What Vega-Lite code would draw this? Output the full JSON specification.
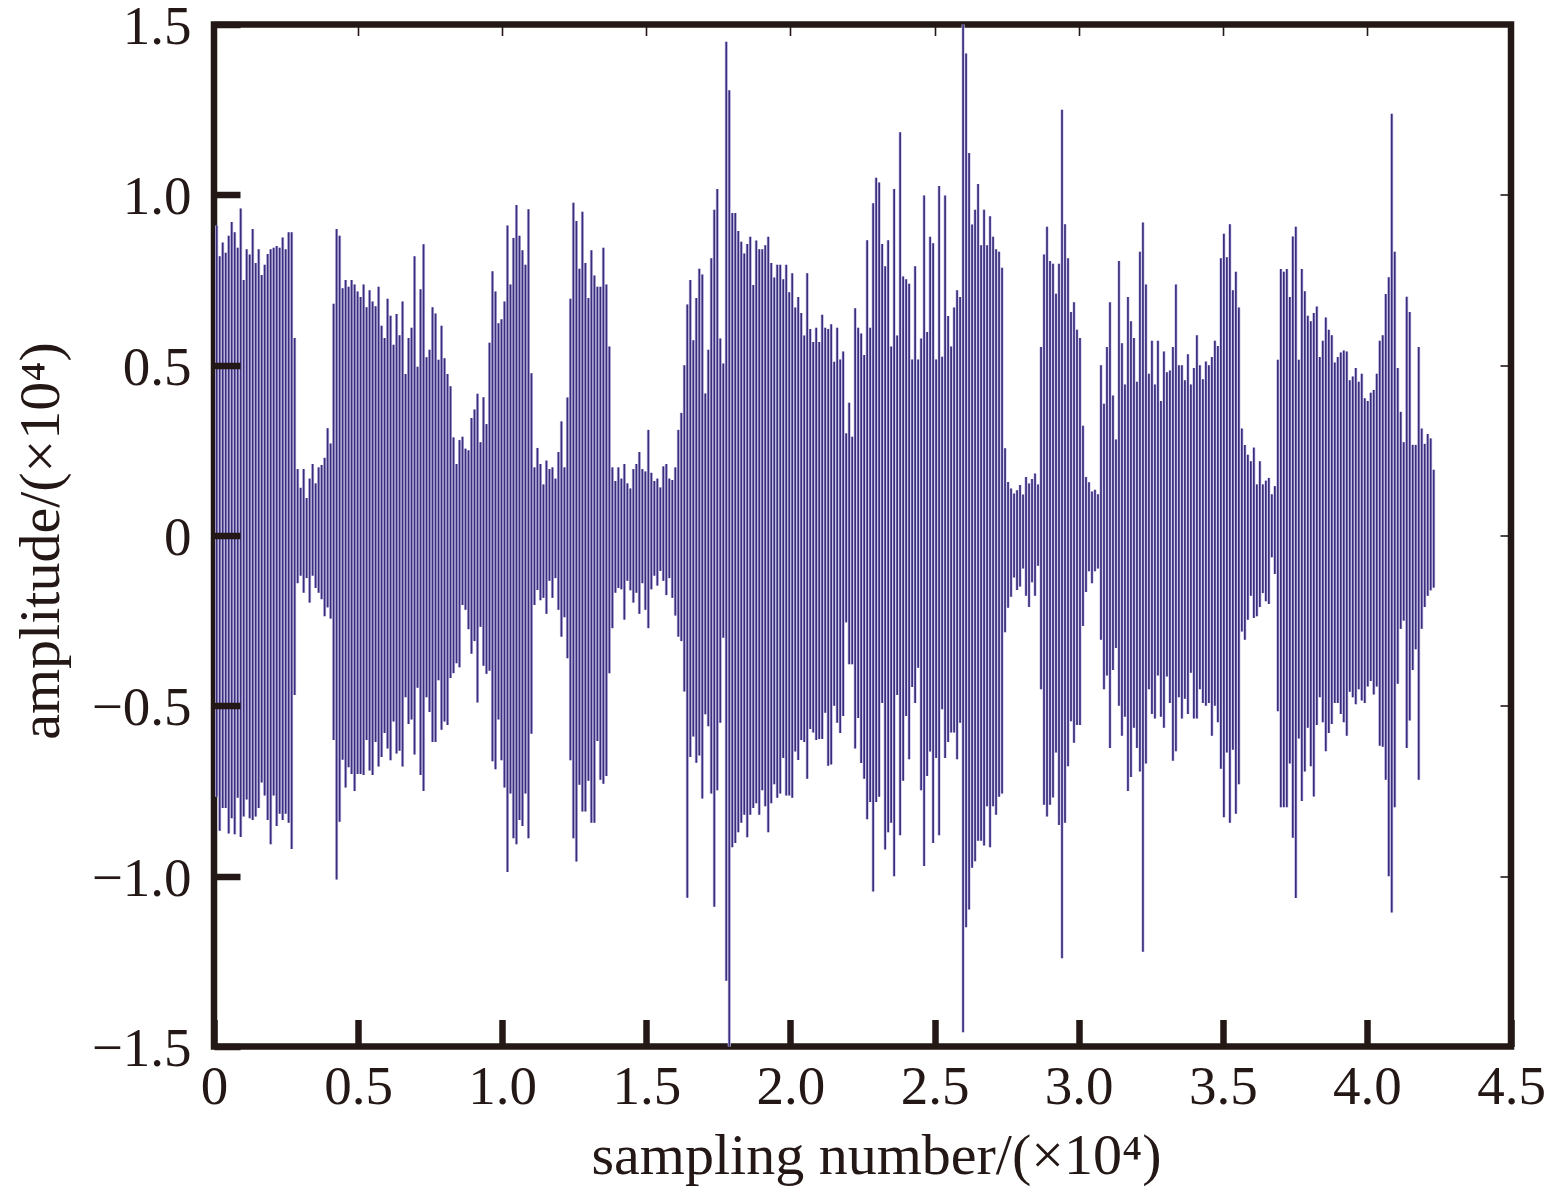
{
"$schema":"https://vega.github.io/schema/vega-lite/v6.json",
"width":1297,"height":1022,
"autosize":{"type":"none"},
"padding":{"left":214,"top":24.5,"right":41,"bottom":146},
"background":"#ffffff",
"view":{"stroke":"#231815","strokeWidth":6.5,"fill":null},
"config":{"axis":{"labelFont":"Liberation Serif","titleFont":"Liberation Serif","labelColor":"#231815","titleColor":"#231815","tickColor":"#231815","domain":false,"grid":false,"labelFontSize":55,"titleFontSize":58,"titleFontWeight":"normal"}},
"data":{"values":[
{"n":0.0094,"hi":0.91,"lo":-0.767},{"n":0.0198,"hi":0.82,"lo":-0.867},{"n":0.0302,"hi":0.86,"lo":-0.8},{"n":0.0406,"hi":0.83,"lo":-0.8},{"n":0.051,"hi":0.88,"lo":-0.875},{"n":0.0614,"hi":0.92,"lo":-0.83},{"n":0.0718,"hi":0.89,"lo":-0.877},{"n":0.0822,"hi":0.845,"lo":-0.77},{"n":0.0926,"hi":0.96,"lo":-0.885},{"n":0.103,"hi":0.75,"lo":-0.825},
{"n":0.1134,"hi":0.84,"lo":-0.775},{"n":0.1238,"hi":0.825,"lo":-0.83},{"n":0.1342,"hi":0.9,"lo":-0.835},{"n":0.1446,"hi":0.8,"lo":-0.825},{"n":0.155,"hi":0.84,"lo":-0.8},{"n":0.1654,"hi":0.765,"lo":-0.725},{"n":0.1758,"hi":0.795,"lo":-0.763},{"n":0.1862,"hi":0.826,"lo":-0.835},{"n":0.1966,"hi":0.84,"lo":-0.906},{"n":0.207,"hi":0.845,"lo":-0.763},
{"n":0.2174,"hi":0.85,"lo":-0.853},{"n":0.2278,"hi":0.845,"lo":-0.817},{"n":0.2382,"hi":0.875,"lo":-0.835},{"n":0.2486,"hi":0.84,"lo":-0.817},{"n":0.259,"hi":0.89,"lo":-0.843},{"n":0.2694,"hi":0.89,"lo":-0.92},{"n":0.2798,"hi":0.58,"lo":-0.468},{"n":0.2902,"hi":0.195,"lo":-0.14},{"n":0.3006,"hi":0.14,"lo":-0.118},{"n":0.311,"hi":0.195,"lo":-0.168},
{"n":0.3214,"hi":0.11,"lo":-0.125},{"n":0.3318,"hi":0.167,"lo":-0.197},{"n":0.3422,"hi":0.21,"lo":-0.118},{"n":0.3526,"hi":0.153,"lo":-0.154},{"n":0.363,"hi":0.2,"lo":-0.168},{"n":0.3734,"hi":0.207,"lo":-0.187},{"n":0.3838,"hi":0.228,"lo":-0.237},{"n":0.3942,"hi":0.315,"lo":-0.211},{"n":0.4046,"hi":0.27,"lo":-0.244},{"n":0.415,"hi":0.68,"lo":-0.6},
{"n":0.4254,"hi":0.9,"lo":-1.01},{"n":0.4358,"hi":0.88,"lo":-0.84},{"n":0.4462,"hi":0.726,"lo":-0.658},{"n":0.4566,"hi":0.75,"lo":-0.74},{"n":0.467,"hi":0.73,"lo":-0.68},{"n":0.4774,"hi":0.75,"lo":-0.7},{"n":0.4878,"hi":0.737,"lo":-0.75},{"n":0.4982,"hi":0.716,"lo":-0.7},{"n":0.5086,"hi":0.7,"lo":-0.7},{"n":0.519,"hi":0.737,"lo":-0.703},
{"n":0.5294,"hi":0.67,"lo":-0.6},{"n":0.5398,"hi":0.72,"lo":-0.69},{"n":0.5502,"hi":0.687,"lo":-0.703},{"n":0.5606,"hi":0.673,"lo":-0.606},{"n":0.571,"hi":0.73,"lo":-0.678},{"n":0.5814,"hi":0.616,"lo":-0.65},{"n":0.5918,"hi":0.58,"lo":-0.58},{"n":0.6022,"hi":0.695,"lo":-0.625},{"n":0.6126,"hi":0.645,"lo":-0.66},{"n":0.623,"hi":0.56,"lo":-0.546},
{"n":0.6334,"hi":0.65,"lo":-0.64},{"n":0.6438,"hi":0.588,"lo":-0.632},{"n":0.6542,"hi":0.687,"lo":-0.678},{"n":0.6646,"hi":0.474,"lo":-0.475},{"n":0.675,"hi":0.58,"lo":-0.553},{"n":0.6854,"hi":0.61,"lo":-0.54},{"n":0.6958,"hi":0.82,"lo":-0.643},{"n":0.7062,"hi":0.495,"lo":-0.447},{"n":0.7166,"hi":0.723,"lo":-0.703},{"n":0.727,"hi":0.855,"lo":-0.75},
{"n":0.7374,"hi":0.523,"lo":-0.475},{"n":0.7478,"hi":0.545,"lo":-0.518},{"n":0.7582,"hi":0.67,"lo":-0.606},{"n":0.7686,"hi":0.652,"lo":-0.606},{"n":0.779,"hi":0.516,"lo":-0.425},{"n":0.7894,"hi":0.616,"lo":-0.57},{"n":0.7998,"hi":0.52,"lo":-0.546},{"n":0.8102,"hi":0.474,"lo":-0.556},{"n":0.8206,"hi":0.438,"lo":-0.418},{"n":0.831,"hi":0.288,"lo":-0.404},
{"n":0.8414,"hi":0.21,"lo":-0.375},{"n":0.8518,"hi":0.28,"lo":-0.387},{"n":0.8622,"hi":0.29,"lo":-0.204},{"n":0.8726,"hi":0.255,"lo":-0.218},{"n":0.883,"hi":0.25,"lo":-0.275},{"n":0.8934,"hi":0.345,"lo":-0.347},{"n":0.9038,"hi":0.37,"lo":-0.31},{"n":0.9142,"hi":0.416,"lo":-0.49},{"n":0.9246,"hi":0.274,"lo":-0.268},{"n":0.935,"hi":0.406,"lo":-0.382},
{"n":0.9454,"hi":0.327,"lo":-0.406},{"n":0.9558,"hi":0.566,"lo":-0.397},{"n":0.9662,"hi":0.776,"lo":-0.663},{"n":0.9766,"hi":0.716,"lo":-0.686},{"n":0.987,"hi":0.623,"lo":-0.54},{"n":0.9974,"hi":0.635,"lo":-0.66},{"n":1.0078,"hi":0.687,"lo":-0.74},{"n":1.0182,"hi":0.91,"lo":-0.988},{"n":1.0286,"hi":0.737,"lo":-0.757},{"n":1.039,"hi":0.873,"lo":-0.889},
{"n":1.0494,"hi":0.97,"lo":-0.906},{"n":1.0598,"hi":0.88,"lo":-0.835},{"n":1.0702,"hi":0.837,"lo":-0.853},{"n":1.0806,"hi":0.795,"lo":-0.757},{"n":1.091,"hi":0.958,"lo":-0.889},{"n":1.1014,"hi":0.476,"lo":-0.582},{"n":1.1118,"hi":0.2,"lo":-0.204},{"n":1.1222,"hi":0.257,"lo":-0.16},{"n":1.1326,"hi":0.21,"lo":-0.19},{"n":1.143,"hi":0.15,"lo":-0.183},
{"n":1.1534,"hi":0.22,"lo":-0.23},{"n":1.1638,"hi":0.195,"lo":-0.133},{"n":1.1742,"hi":0.2,"lo":-0.183},{"n":1.1846,"hi":0.167,"lo":-0.125},{"n":1.195,"hi":0.245,"lo":-0.218},{"n":1.2054,"hi":0.335,"lo":-0.297},{"n":1.2158,"hi":0.2,"lo":-0.24},{"n":1.2262,"hi":0.405,"lo":-0.36},{"n":1.2366,"hi":0.695,"lo":-0.66},{"n":1.247,"hi":0.977,"lo":-0.889},
{"n":1.2574,"hi":0.923,"lo":-0.957},{"n":1.2678,"hi":0.783,"lo":-0.732},{"n":1.2782,"hi":0.95,"lo":-0.81},{"n":1.2886,"hi":0.8,"lo":-0.81},{"n":1.299,"hi":0.697,"lo":-0.72},{"n":1.3094,"hi":0.837,"lo":-0.843},{"n":1.3198,"hi":0.763,"lo":-0.843},{"n":1.3302,"hi":0.73,"lo":-0.603},{"n":1.3406,"hi":0.73,"lo":-0.717},{"n":1.351,"hi":0.845,"lo":-0.729},
{"n":1.3614,"hi":0.737,"lo":-0.706},{"n":1.3718,"hi":0.555,"lo":-0.404},{"n":1.3822,"hi":0.2,"lo":-0.272},{"n":1.3926,"hi":0.16,"lo":-0.168},{"n":1.403,"hi":0.2,"lo":-0.154},{"n":1.4134,"hi":0.167,"lo":-0.158},{"n":1.4238,"hi":0.21,"lo":-0.247},{"n":1.4342,"hi":0.153,"lo":-0.133},{"n":1.4446,"hi":0.138,"lo":-0.161},{"n":1.455,"hi":0.195,"lo":-0.197},
{"n":1.4654,"hi":0.21,"lo":-0.168},{"n":1.4758,"hi":0.245,"lo":-0.23},{"n":1.4862,"hi":0.195,"lo":-0.14},{"n":1.4966,"hi":0.188,"lo":-0.218},{"n":1.507,"hi":0.31,"lo":-0.272},{"n":1.5174,"hi":0.184,"lo":-0.158},{"n":1.5278,"hi":0.16,"lo":-0.118},{"n":1.5382,"hi":0.167,"lo":-0.147},{"n":1.5486,"hi":0.141,"lo":-0.104},{"n":1.559,"hi":0.203,"lo":-0.133},
{"n":1.5694,"hi":0.21,"lo":-0.175},{"n":1.5798,"hi":0.167,"lo":-0.125},{"n":1.5902,"hi":0.163,"lo":-0.183},{"n":1.6006,"hi":0.2,"lo":-0.235},{"n":1.611,"hi":0.31,"lo":-0.297},{"n":1.6214,"hi":0.36,"lo":-0.31},{"n":1.6318,"hi":0.5,"lo":-0.458},{"n":1.6422,"hi":0.678,"lo":-1.063},{"n":1.6526,"hi":0.75,"lo":-0.65},{"n":1.663,"hi":0.573,"lo":-0.59},
{"n":1.6734,"hi":0.697,"lo":-0.667},{"n":1.6838,"hi":0.783,"lo":-0.646},{"n":1.6942,"hi":0.766,"lo":-0.772},{"n":1.7046,"hi":0.417,"lo":-0.525},{"n":1.715,"hi":0.545,"lo":-0.56},{"n":1.7254,"hi":0.814,"lo":-0.757},{"n":1.7358,"hi":0.956,"lo":-1.09},{"n":1.7462,"hi":1.017,"lo":-0.748},{"n":1.7566,"hi":0.578,"lo":-0.55},{"n":1.767,"hi":0.505,"lo":-0.3},
{"n":1.7774,"hi":1.449,"lo":-1.307},{"n":1.7878,"hi":1.307,"lo":-1.5},{"n":1.7982,"hi":0.947,"lo":-0.915},{"n":1.8086,"hi":0.947,"lo":-0.903},{"n":1.819,"hi":0.894,"lo":-0.871},{"n":1.8294,"hi":0.862,"lo":-0.843},{"n":1.8398,"hi":0.828,"lo":-0.82},{"n":1.8502,"hi":0.856,"lo":-0.886},{"n":1.8606,"hi":0.877,"lo":-0.82},{"n":1.871,"hi":0.735,"lo":-0.8},
{"n":1.8814,"hi":0.866,"lo":-0.786},{"n":1.8918,"hi":0.84,"lo":-0.82},{"n":1.9022,"hi":0.84,"lo":-0.748},{"n":1.9126,"hi":0.852,"lo":-0.795},{"n":1.923,"hi":0.877,"lo":-0.871},{"n":1.9334,"hi":0.8,"lo":-0.786},{"n":1.9438,"hi":0.757,"lo":-0.73},{"n":1.9542,"hi":0.795,"lo":-0.77},{"n":1.9646,"hi":0.795,"lo":-0.757},{"n":1.975,"hi":0.752,"lo":-0.653},
{"n":1.9854,"hi":0.795,"lo":-0.763},{"n":1.9958,"hi":0.714,"lo":-0.763},{"n":2.0062,"hi":0.77,"lo":-0.77},{"n":2.0166,"hi":0.669,"lo":-0.634},{"n":2.027,"hi":0.7,"lo":-0.659},{"n":2.0374,"hi":0.653,"lo":-0.6},{"n":2.0478,"hi":0.587,"lo":-0.606},{"n":2.0582,"hi":0.77,"lo":-0.714},{"n":2.0686,"hi":0.606,"lo":-0.568},{"n":2.079,"hi":0.568,"lo":-0.578},
{"n":2.0894,"hi":0.61,"lo":-0.6},{"n":2.0998,"hi":0.568,"lo":-0.597},{"n":2.1102,"hi":0.648,"lo":-0.597},{"n":2.1206,"hi":0.61,"lo":-0.52},{"n":2.131,"hi":0.606,"lo":-0.676},{"n":2.1414,"hi":0.62,"lo":-0.672},{"n":2.1518,"hi":0.51,"lo":-0.5},{"n":2.1622,"hi":0.61,"lo":-0.55},{"n":2.1726,"hi":0.517,"lo":-0.58},{"n":2.183,"hi":0.54,"lo":-0.53},
{"n":2.1934,"hi":0.3,"lo":-0.255},{"n":2.2038,"hi":0.39,"lo":-0.378},{"n":2.2142,"hi":0.29,"lo":-0.378},{"n":2.2246,"hi":0.667,"lo":-0.625},{"n":2.235,"hi":0.61,"lo":-0.536},{"n":2.2454,"hi":0.593,"lo":-0.668},{"n":2.2558,"hi":0.53,"lo":-0.714},{"n":2.2662,"hi":0.867,"lo":-0.833},{"n":2.2766,"hi":0.61,"lo":-0.782},{"n":2.287,"hi":0.975,"lo":-1.045},
{"n":2.2974,"hi":1.05,"lo":-0.782},{"n":2.3078,"hi":1.036,"lo":-0.767},{"n":2.3182,"hi":0.856,"lo":-0.492},{"n":2.3286,"hi":0.79,"lo":-0.922},{"n":2.339,"hi":0.867,"lo":-0.871},{"n":2.3494,"hi":0.555,"lo":-0.843},{"n":2.3598,"hi":1.017,"lo":-1.0},{"n":2.3702,"hi":0.587,"lo":-0.468},{"n":2.3806,"hi":1.184,"lo":-0.88},{"n":2.391,"hi":0.76,"lo":-0.72},
{"n":2.4014,"hi":0.752,"lo":-0.53},{"n":2.4118,"hi":0.739,"lo":-0.657},{"n":2.4222,"hi":0.517,"lo":-0.445},{"n":2.4326,"hi":0.79,"lo":-0.492},{"n":2.443,"hi":0.517,"lo":-0.388},{"n":2.4534,"hi":0.578,"lo":-0.748},{"n":2.4638,"hi":0.998,"lo":-0.97},{"n":2.4742,"hi":0.597,"lo":-0.706},{"n":2.4846,"hi":0.877,"lo":-0.634},{"n":2.495,"hi":0.858,"lo":-0.903},
{"n":2.5054,"hi":0.517,"lo":-0.653},{"n":2.5158,"hi":1.026,"lo":-0.88},{"n":2.5262,"hi":0.525,"lo":-0.51},{"n":2.5366,"hi":0.998,"lo":-0.653},{"n":2.547,"hi":0.644,"lo":-0.606},{"n":2.5574,"hi":0.555,"lo":-0.578},{"n":2.5678,"hi":0.669,"lo":-0.578},{"n":2.5782,"hi":0.72,"lo":-0.657},{"n":2.5886,"hi":0.7,"lo":-0.55},{"n":2.599,"hi":1.5,"lo":-1.458},
{"n":2.6094,"hi":1.415,"lo":-1.15},{"n":2.6198,"hi":1.123,"lo":-1.098},{"n":2.6302,"hi":0.913,"lo":-0.975},{"n":2.6406,"hi":0.956,"lo":-0.956},{"n":2.651,"hi":1.032,"lo":-0.896},{"n":2.6614,"hi":0.852,"lo":-0.896},{"n":2.6718,"hi":0.956,"lo":-0.91},{"n":2.6822,"hi":0.852,"lo":-0.795},{"n":2.6926,"hi":0.9375,"lo":-0.915},{"n":2.703,"hi":0.877,"lo":-0.795},
{"n":2.7134,"hi":0.84,"lo":-0.82},{"n":2.7238,"hi":0.833,"lo":-0.767},{"n":2.7342,"hi":0.786,"lo":-0.757},{"n":2.7446,"hi":0.256,"lo":-0.284},{"n":2.755,"hi":0.157,"lo":-0.212},{"n":2.7654,"hi":0.138,"lo":-0.18},{"n":2.7758,"hi":0.123,"lo":-0.123},{"n":2.7862,"hi":0.133,"lo":-0.16},{"n":2.7966,"hi":0.148,"lo":-0.15},{"n":2.807,"hi":0.12,"lo":-0.097},
{"n":2.8174,"hi":0.172,"lo":-0.177},{"n":2.8278,"hi":0.153,"lo":-0.21},{"n":2.8382,"hi":0.166,"lo":-0.137},{"n":2.8486,"hi":0.182,"lo":-0.177},{"n":2.859,"hi":0.15,"lo":-0.089},{"n":2.8694,"hi":0.553,"lo":-0.451},{"n":2.8798,"hi":0.825,"lo":-0.79},{"n":2.8902,"hi":0.906,"lo":-0.825},{"n":2.9006,"hi":0.806,"lo":-0.79},{"n":2.911,"hi":0.798,"lo":-0.769},
{"n":2.9214,"hi":0.71,"lo":-0.637},{"n":2.9318,"hi":0.798,"lo":-0.85},{"n":2.9422,"hi":1.25,"lo":-1.241},{"n":2.9526,"hi":0.914,"lo":-0.843},{"n":2.963,"hi":0.814,"lo":-0.677},{"n":2.9734,"hi":0.656,"lo":-0.545},{"n":2.9838,"hi":0.685,"lo":-0.608},{"n":2.9942,"hi":0.604,"lo":-0.556},{"n":3.0046,"hi":0.58,"lo":-0.556},{"n":3.015,"hi":0.322,"lo":-0.266},
{"n":3.0254,"hi":0.172,"lo":-0.166},{"n":3.0358,"hi":0.156,"lo":-0.105},{"n":3.0462,"hi":0.129,"lo":-0.14},{"n":3.0566,"hi":0.134,"lo":-0.105},{"n":3.067,"hi":0.121,"lo":-0.097},{"n":3.0774,"hi":0.5,"lo":-0.306},{"n":3.0878,"hi":0.387,"lo":-0.451},{"n":3.0982,"hi":0.553,"lo":-0.411},{"n":3.1086,"hi":0.685,"lo":-0.624},{"n":3.119,"hi":0.411,"lo":-0.395},
{"n":3.1294,"hi":0.282,"lo":-0.33},{"n":3.1398,"hi":0.806,"lo":-0.5},{"n":3.1502,"hi":0.564,"lo":-0.588},{"n":3.1606,"hi":0.443,"lo":-0.532},{"n":3.171,"hi":0.7,"lo":-0.75},{"n":3.1814,"hi":0.629,"lo":-0.709},{"n":3.1918,"hi":0.58,"lo":-0.564},{"n":3.2022,"hi":0.451,"lo":-0.624},{"n":3.2126,"hi":0.833,"lo":-0.693},{"n":3.223,"hi":0.919,"lo":-1.222},
{"n":3.2334,"hi":0.737,"lo":-0.669},{"n":3.2438,"hi":0.475,"lo":-0.451},{"n":3.2542,"hi":0.572,"lo":-0.524},{"n":3.2646,"hi":0.443,"lo":-0.537},{"n":3.275,"hi":0.572,"lo":-0.411},{"n":3.2854,"hi":0.395,"lo":-0.532},{"n":3.2958,"hi":0.54,"lo":-0.564},{"n":3.3062,"hi":0.479,"lo":-0.414},{"n":3.3166,"hi":0.484,"lo":-0.492},{"n":3.327,"hi":0.553,"lo":-0.661},
{"n":3.3374,"hi":0.737,"lo":-0.633},{"n":3.3478,"hi":0.5,"lo":-0.475},{"n":3.3582,"hi":0.5,"lo":-0.537},{"n":3.3686,"hi":0.456,"lo":-0.479},{"n":3.379,"hi":0.532,"lo":-0.524},{"n":3.3894,"hi":0.443,"lo":-0.403},{"n":3.3998,"hi":0.492,"lo":-0.537},{"n":3.4102,"hi":0.588,"lo":-0.537},{"n":3.4206,"hi":0.5,"lo":-0.451},{"n":3.431,"hi":0.459,"lo":-0.492},
{"n":3.4414,"hi":0.511,"lo":-0.5},{"n":3.4518,"hi":0.5,"lo":-0.492},{"n":3.4622,"hi":0.524,"lo":-0.588},{"n":3.4726,"hi":0.572,"lo":-0.5},{"n":3.483,"hi":0.556,"lo":-0.548},{"n":3.4934,"hi":0.814,"lo":-0.685},{"n":3.5038,"hi":0.886,"lo":-0.827},{"n":3.5142,"hi":0.817,"lo":-0.637},{"n":3.5246,"hi":0.914,"lo":-0.843},{"n":3.535,"hi":0.72,"lo":-0.629},
{"n":3.5454,"hi":0.774,"lo":-0.817},{"n":3.5558,"hi":0.669,"lo":-0.73},{"n":3.5662,"hi":0.314,"lo":-0.282},{"n":3.5766,"hi":0.266,"lo":-0.306},{"n":3.587,"hi":0.237,"lo":-0.247},{"n":3.5974,"hi":0.218,"lo":-0.177},{"n":3.6078,"hi":0.258,"lo":-0.242},{"n":3.6182,"hi":0.15,"lo":-0.237},{"n":3.6286,"hi":0.218,"lo":-0.21},{"n":3.639,"hi":0.15,"lo":-0.169},
{"n":3.6494,"hi":0.161,"lo":-0.193},{"n":3.6598,"hi":0.169,"lo":-0.201},{"n":3.6702,"hi":0.121,"lo":-0.064},{"n":3.6806,"hi":0.145,"lo":-0.113},{"n":3.691,"hi":0.516,"lo":-0.516},{"n":3.7014,"hi":0.782,"lo":-0.798},{"n":3.7118,"hi":0.774,"lo":-0.798},{"n":3.7222,"hi":0.782,"lo":-0.798},{"n":3.7326,"hi":0.7,"lo":-0.669},{"n":3.743,"hi":0.878,"lo":-0.887},
{"n":3.7534,"hi":0.906,"lo":-1.064},{"n":3.7638,"hi":0.516,"lo":-0.596},{"n":3.7742,"hi":0.782,"lo":-0.779},{"n":3.7846,"hi":0.717,"lo":-0.693},{"n":3.795,"hi":0.645,"lo":-0.564},{"n":3.8054,"hi":0.629,"lo":-0.677},{"n":3.8158,"hi":0.653,"lo":-0.766},{"n":3.8262,"hi":0.672,"lo":-0.556},{"n":3.8366,"hi":0.524,"lo":-0.475},{"n":3.847,"hi":0.572,"lo":-0.548},
{"n":3.8574,"hi":0.64,"lo":-0.633},{"n":3.8678,"hi":0.604,"lo":-0.58},{"n":3.8782,"hi":0.588,"lo":-0.553},{"n":3.8886,"hi":0.508,"lo":-0.492},{"n":3.899,"hi":0.524,"lo":-0.492},{"n":3.9094,"hi":0.537,"lo":-0.524},{"n":3.9198,"hi":0.543,"lo":-0.548},{"n":3.9302,"hi":0.54,"lo":-0.588},{"n":3.9406,"hi":0.456,"lo":-0.459},{"n":3.951,"hi":0.467,"lo":-0.475},
{"n":3.9614,"hi":0.492,"lo":-0.495},{"n":3.9718,"hi":0.451,"lo":-0.451},{"n":3.9822,"hi":0.475,"lo":-0.484},{"n":3.9926,"hi":0.403,"lo":-0.492},{"n":4.003,"hi":0.395,"lo":-0.443},{"n":4.0134,"hi":0.419,"lo":-0.427},{"n":4.0238,"hi":0.427,"lo":-0.467},{"n":4.0342,"hi":0.475,"lo":-0.443},{"n":4.0446,"hi":0.572,"lo":-0.617},{"n":4.055,"hi":0.588,"lo":-0.62},
{"n":4.0654,"hi":0.709,"lo":-0.717},{"n":4.0758,"hi":0.758,"lo":-1.0},{"n":4.0862,"hi":1.238,"lo":-1.107},{"n":4.0966,"hi":0.833,"lo":-0.798},{"n":4.107,"hi":0.492,"lo":-0.435},{"n":4.1174,"hi":0.363,"lo":-0.274},{"n":4.1278,"hi":0.274,"lo":-0.25},{"n":4.1382,"hi":0.701,"lo":-0.624},{"n":4.1486,"hi":0.656,"lo":-0.543},{"n":4.159,"hi":0.266,"lo":-0.395},
{"n":4.1694,"hi":0.266,"lo":-0.334},{"n":4.1798,"hi":0.553,"lo":-0.717},{"n":4.1902,"hi":0.314,"lo":-0.274},{"n":4.2006,"hi":0.269,"lo":-0.21},{"n":4.211,"hi":0.298,"lo":-0.177},{"n":4.2214,"hi":0.285,"lo":-0.161},{"n":4.2318,"hi":0.193,"lo":-0.153}
]},
"layer":[
{"mark":{"type":"rule","color":"#c9c4ea","strokeWidth":3.1},
"encoding":{
"x":{"field":"n","type":"quantitative","scale":{"domain":[0,4.5],"nice":false,"zero":false},
"axis":{"orient":"bottom","values":[0,0.5,1,1.5,2,2.5,3,3.5,4,4.5],"labelExpr":"datum.value==0?'0':format(datum.value,'.1f')","tickSize":-27,"tickWidth":6.5,"labelPadding":41,"labelOverlap":false,"labelBound":false,"labelFlush":false,"zindex":1,"title":"sampling number/(×10⁴)","titleX":662,"titleY":127,"titleAlign":"center","titleBaseline":"alphabetic","titleAnchor":null}},
"y":{"field":"lo","type":"quantitative","scale":{"domain":[-1.5,1.5],"nice":false,"zero":false},
"axis":{"orient":"left","values":[-1.5,-1,-0.5,0,0.5,1,1.5],"labelExpr":"datum.value==0?'0':format(datum.value,'.1f')","tickSize":-26,"tickWidth":6.5,"labelPadding":49,"labelOffset":2,"labelOverlap":false,"labelBound":false,"labelFlush":false,"zindex":1,"title":"amplitude/(×10⁴)","titleX":-156,"titleY":516,"titleAlign":"center","titleBaseline":"alphabetic","titleAnchor":null}},
"y2":{"field":"hi"}}},
{"mark":{"type":"rule","color":"#3a2e7c","strokeWidth":1.7},
"encoding":{
"x":{"field":"n","type":"quantitative","scale":{"domain":[0,4.5],"nice":false,"zero":false},
"axis":{"orient":"top","values":[0.5,1,1.5,2,2.5,3,3.5,4],"labels":false,"tickSize":-11,"tickWidth":1.6,"title":null,"zindex":1}},
"y":{"field":"lo","type":"quantitative","scale":{"domain":[-1.5,1.5],"nice":false,"zero":false},
"axis":{"orient":"right","values":[-1,-0.5,0,0.5,1],"labels":false,"tickSize":-11,"tickWidth":1.6,"title":null,"zindex":1}},
"y2":{"field":"hi"}}}
],
"resolve":{"axis":{"x":"independent","y":"independent"}}
}
